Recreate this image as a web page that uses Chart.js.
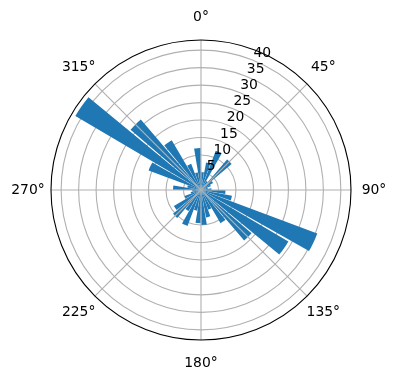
<!DOCTYPE html>
<html>
<head>
<meta charset="utf-8">
<script src="https://cdn.jsdelivr.net/npm/chart.js@4/dist/chart.umd.min.js"></script>
<style>
    html, body { margin: 0; padding: 0; background: #fff; }
    canvas { display: block; }
</style>
</head>
<body>
<canvas id="myChart" width="396" height="380"></canvas>
<script>
// bin centres in degrees, clockwise from north (10 degree bins)
const directions = [5, 15, 25, 35, 45, 55, 65, 75, 85,
    95, 105, 115, 125, 135, 145, 155, 165, 175,
    185, 195, 205, 215, 225, 235, 245, 255, 265,
    275, 285, 295, 305, 315, 325, 335, 345, 355];
// bar lengths
const counts = [5, 8, 12, 3, 11.5, 4, 3, 2, 3,
    7, 9, 35.5, 29, 19, 11, 6, 8, 10,
    9.5, 6, 11, 7, 10.5, 9, 5, 3, 2.5,
    8, 4, 16, 41.7, 26.5, 16.5, 8, 5, 12];
const ringTicks = [5, 10, 15, 20, 25, 30, 35, 40];
const angleLabels = ['0°', '45°', '90°', '135°', '180°', '225°', '270°', '315°'];
const rMax = 42.9;
const binWidth = 10;
const barWidth = 9;

const barColor = '#1f77b4';
const gridColor = '#b0b0b0';
const font = '13.9px "DejaVu Sans"';

// every bin becomes a bar segment followed by an empty gap segment
const segValues = [];
const segAngles = [];
const segLabels = [];
directions.forEach((dir, i) => {
    segValues.push(counts[i]);
    segAngles.push(barWidth);
    segLabels.push(dir + '°');
    segValues.push(0);
    segAngles.push(binWidth - barWidth);
    segLabels.push('');
});

// angle lines, outer circle and text labels drawn on top
const polarDecor = {
    id: 'polarDecor',
    afterDatasetsDraw(chart) {
        const s = chart.scales.r;
        const ctx = chart.ctx;
        ctx.save();
        ctx.strokeStyle = gridColor;
        ctx.lineWidth = 1.1;
        for (let k = 0; k < 8; k++) {
            const a = (k * 45 - 90) * Math.PI / 180;
            ctx.beginPath();
            ctx.moveTo(s.xCenter, s.yCenter);
            ctx.lineTo(s.xCenter + s.drawingArea * Math.cos(a), s.yCenter + s.drawingArea * Math.sin(a));
            ctx.stroke();
        }
        ctx.restore();
    },
    afterDraw(chart) {
        const s = chart.scales.r;
        const ctx = chart.ctx;
        ctx.save();
        ctx.strokeStyle = '#000';
        ctx.lineWidth = 1.1;
        ctx.beginPath();
        ctx.arc(s.xCenter, s.yCenter, s.drawingArea, 0, Math.PI * 2);
        ctx.stroke();

        ctx.fillStyle = '#000';
        ctx.font = font;
        ctx.textAlign = 'center';
        ctx.textBaseline = 'middle';
        angleLabels.forEach((lab, k) => {
            const a = (k * 45 - 90) * Math.PI / 180;
            const d = s.drawingArea + 23;
            ctx.fillText(lab, s.xCenter + d * Math.cos(a), s.yCenter + d * Math.sin(a));
        });

        ctx.textAlign = 'left';
        ctx.textBaseline = 'alphabetic';
        const la = (22.5 - 90) * Math.PI / 180;
        ringTicks.forEach(v => {
            const d = s.getDistanceFromCenterForValue(v);
            const x = s.xCenter + d * Math.cos(la);
            const y = s.yCenter + d * Math.sin(la);
            ctx.fillText(String(v), x - 1, y - 4);
        });
        ctx.restore();
    }
};

const chart = new Chart(document.getElementById('myChart'), {
    type: 'polarArea',
    data: {
        labels: segLabels,
        datasets: [{
            data: segValues,
            backgroundColor: barColor,
            borderWidth: 0,
            angle: ctx => segAngles[ctx.dataIndex],
        }],
    },
    options: {
        responsive: false,
        animation: false,
        layout: { padding: { left: 51, right: 45, top: 40, bottom: 40 } },
        plugins: {
            legend: { display: false },
            tooltip: { enabled: false },
        },
        scales: {
            r: {
                min: 0,
                max: rMax,
                startAngle: (binWidth - barWidth) / 2,
                z: 1,
                afterBuildTicks: axis => {
                    axis.ticks = [0, ...ringTicks].map(v => ({ value: v }));
                },
                ticks: { display: false },
                grid: { circular: true, color: gridColor, lineWidth: 1.1 },
                angleLines: { display: false },
                pointLabels: { display: false },
            },
        },
    },
    plugins: [polarDecor],
});
</script>
</body>
</html>
